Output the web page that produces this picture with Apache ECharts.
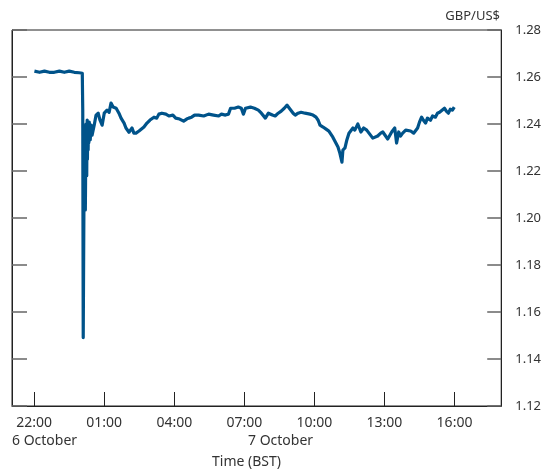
<!DOCTYPE html>
<html>
<head>
<meta charset="utf-8">
<script src="https://cdn.jsdelivr.net/npm/echarts@6/dist/echarts.min.js"></script>
<style>
html,body{margin:0;padding:0;background:#fff;}
#chart{width:544px;height:472px;}
</style>
</head>
<body>
<div id="chart"></div>
<script>
// Hours elapsed since 22:00 BST on 6 October
const hours = [0.01,0.23,0.44,0.65,0.86,1.08,1.29,1.50,1.72,1.93,2.06,2.08,2.10,2.12,2.13,2.14,2.15,2.16,2.17,2.18,2.19,2.20,2.21,2.22,2.23,2.24,2.25,2.26,2.27,2.28,2.29,2.30,2.31,2.33,2.34,2.36,2.40,2.44,2.48,2.57,2.65,2.74,2.82,2.91,3.00,3.12,3.21,3.29,3.38,3.51,3.63,3.72,3.85,3.93,4.06,4.19,4.27,4.36,4.49,4.57,4.70,4.83,4.96,5.13,5.25,5.34,5.47,5.64,5.77,5.94,6.06,6.23,6.40,6.53,6.62,6.74,6.87,7.04,7.26,7.47,7.68,7.90,8.02,8.19,8.32,8.41,8.58,8.74,8.87,8.96,9.05,9.26,9.43,9.60,9.73,9.90,10.03,10.20,10.32,10.45,10.58,10.71,10.83,10.96,11.09,11.18,11.30,11.43,11.60,11.81,11.94,12.07,12.16,12.24,12.37,12.50,12.62,12.79,12.92,13.01,13.09,13.18,13.22,13.31,13.39,13.48,13.56,13.65,13.73,13.86,13.99,14.11,14.24,14.37,14.50,14.58,14.71,14.84,14.93,15.05,15.14,15.22,15.31,15.44,15.52,15.61,15.69,15.78,15.91,15.99,16.12,16.25,16.33,16.42,16.50,16.59,16.67,16.76,16.84,16.97,17.06,17.18,17.27,17.36,17.44,17.57,17.65,17.74,17.82,17.91,17.99];
const gbpUsd = [1.2625,1.2620,1.2625,1.2620,1.2620,1.2625,1.2620,1.2625,1.2620,1.2618,1.2616,1.2459,1.1491,1.1865,1.2050,1.2119,1.2260,1.2332,1.2100,1.2300,1.2034,1.2150,1.2374,1.2400,1.2204,1.2280,1.2180,1.2350,1.2417,1.2250,1.2380,1.2300,1.2289,1.2400,1.2320,1.2408,1.2332,1.2395,1.2353,1.2395,1.2438,1.2446,1.2416,1.2395,1.2446,1.2459,1.2450,1.2489,1.2472,1.2467,1.2446,1.2425,1.2404,1.2383,1.2365,1.2383,1.2361,1.2361,1.2370,1.2374,1.2387,1.2404,1.2417,1.2429,1.2425,1.2442,1.2446,1.2442,1.2434,1.2438,1.2425,1.2421,1.2412,1.2421,1.2425,1.2429,1.2438,1.2438,1.2434,1.2442,1.2438,1.2434,1.2442,1.2438,1.2442,1.2467,1.2467,1.2472,1.2467,1.2442,1.2467,1.2472,1.2467,1.2459,1.2446,1.2425,1.2446,1.2438,1.2434,1.2446,1.2455,1.2467,1.2480,1.2463,1.2446,1.2438,1.2446,1.2450,1.2446,1.2442,1.2438,1.2429,1.2416,1.2395,1.2387,1.2378,1.2370,1.2344,1.2319,1.2302,1.2276,1.2238,1.2289,1.2298,1.2332,1.2361,1.2366,1.2383,1.2374,1.2400,1.2366,1.2383,1.2374,1.2357,1.2340,1.2332,1.2349,1.2361,1.2366,1.2349,1.2336,1.2344,1.2366,1.2383,1.2319,1.2366,1.2349,1.2361,1.2374,1.2366,1.2370,1.2361,1.2366,1.2383,1.2408,1.2429,1.2416,1.2404,1.2425,1.2416,1.2434,1.2429,1.2446,1.2450,1.2446,1.2467,1.2455,1.2446,1.2463,1.2459,1.2472];
const tickHours = [0,3,6,9,12,15,18];
const tickLabels = ['22:00','01:00','04:00','07:00','10:00','13:00','16:00'];
const dateLabels = ['6 October','7 October'];
const yTitle = 'GBP/US$';
const xTitle = 'Time (BST)';

const FONT = '"Noto Sans", "Open Sans", sans-serif';
const chart = echarts.init(document.getElementById('chart'), null, {renderer:'canvas'});
const data = hours.map((h,i)=>[h, gbpUsd[i]]);
chart.setOption({
  animation:false,
  backgroundColor:'#fff',
  grid:{left:12, right:41, top:30, bottom:66, show:true, borderColor:'#222', borderWidth:1},
  xAxis:{
    type:'value', min:-0.95, max:20,
    axisLine:{show:true, onZero:false, lineStyle:{color:'#222', width:1}},
    splitLine:{show:false},
    axisTick:{show:true, inside:true, length:14, customValues:tickHours, lineStyle:{color:'#222', width:1}},
    axisLabel:{show:true, customValues:tickHours, margin:10, color:'#333', fontSize:14, fontFamily:FONT,
      formatter:(v)=>{const i=tickHours.indexOf(Math.round(v)); return i>=0?tickLabels[i]:'';}}
  },
  yAxis:[{
    type:'value', position:'right', min:1.12, max:1.28, interval:0.02,
    axisLine:{show:true, onZero:false, lineStyle:{color:'#222', width:1}},
    splitLine:{show:false},
    axisTick:{show:true, inside:true, length:14, lineStyle:{color:'#666', width:1.5}},
    axisLabel:{show:true, margin:14, color:'#333', fontSize:13, fontFamily:FONT, formatter:(v)=>v.toFixed(2)}
  },{
    type:'value', position:'left', min:1.12, max:1.28, interval:0.02,
    axisLine:{show:true, onZero:false, lineStyle:{color:'#222', width:1}},
    splitLine:{show:false},
    axisTick:{show:true, inside:true, length:15, lineStyle:{color:'#666', width:1.5}},
    axisLabel:{show:false}
  }],
  series:[{
    type:'line', data:data, yAxisIndex:0, showSymbol:false, symbol:'none',
    lineStyle:{color:'#00538a', width:3.2, join:'round'}, itemStyle:{color:'#00538a'}
  }],
  graphic:[
    {type:'text', right:44, top:10, style:{text:yTitle, fill:'#333', font:'13px '+FONT}},
    {type:'text', left:12, top:434, style:{text:dateLabels[0], fill:'#333', font:'14px '+FONT}},
    {type:'text', left:248, top:434, style:{text:dateLabels[1], fill:'#333', font:'14px '+FONT}},
    {type:'text', left:212, top:455, style:{text:xTitle, fill:'#333', font:'14px '+FONT}}
  ]
});
</script>
</body>
</html>
